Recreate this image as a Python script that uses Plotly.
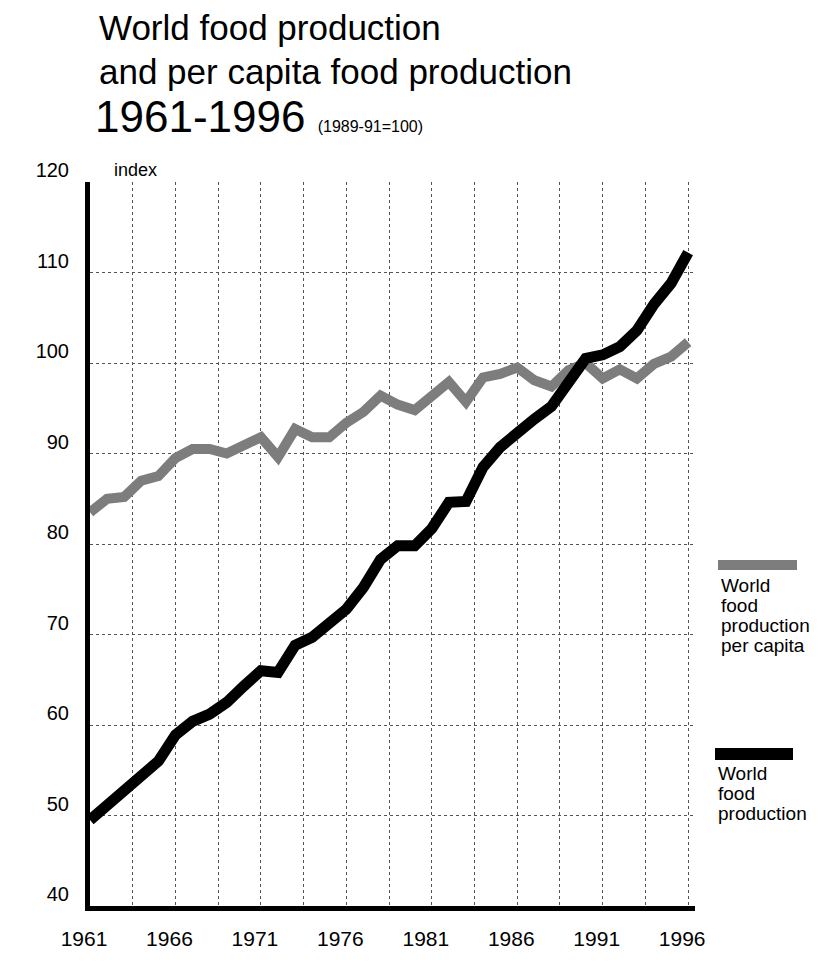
import plotly.graph_objects as go

# ---------------- data ----------------
years = list(range(1961, 1997))

world_food_production = [
    49.5, 51.2, 53.0, 54.4, 56.0, 58.9, 60.4, 61.2, 62.5, 64.3,
    66.0, 65.8, 68.8, 69.7, 71.2, 72.8, 75.2, 78.3, 79.8, 79.8,
    81.7, 84.6, 84.7, 88.5, 90.7, 92.4, 93.8, 95.2, 97.8, 100.5,
    100.9, 101.8, 103.6, 106.5, 108.8, 112.2,
]

world_food_per_capita = [
    83.5, 85.0, 85.2, 87.0, 87.5, 89.5, 90.5, 90.5, 90.0, 91.0,
    91.8, 89.6, 92.7, 91.8, 91.8, 93.4, 94.6, 96.4, 95.4, 94.8,
    96.5, 97.9, 95.7, 98.4, 98.8, 99.5, 98.1, 97.4, 99.2, 100.0,
    98.3, 99.3, 98.3, 99.9, 100.7, 102.3,
]

x_tick_years = [1961, 1966, 1971, 1976, 1981, 1986, 1991, 1996]
y_ticks = [40, 50, 60, 70, 80, 90, 100, 110, 120]

legend_per_capita = ["World", "food", "production", "per capita"]
legend_production = ["World", "food", "production"]

# ---------------- layout geometry ----------------
W, H = 820, 961
OFF = 8  # page body margin offset of the figure inside the window
ML, MT = 82, 174
MR = W - 687
MB = H - 898
PW = W - ML - MR
PH = H - MT - MB


def px(x):
    return (x - OFF - ML) / PW


def py(y):
    return (MT + PH - (y - OFF)) / PH


FONT = "Liberation Sans, Arial, Helvetica, sans-serif"
GREY = "#7d7d7d"

fig = go.Figure()

fig.add_trace(go.Scatter(
    x=years, y=world_food_per_capita, mode="lines",
    line=dict(color=GREY, width=10),
    name="World food production per capita",
))
fig.add_trace(go.Scatter(
    x=years, y=world_food_production, mode="lines",
    line=dict(color="black", width=11),
    name="World food production",
))

annotations = [
    dict(text="World food production", x=px(97), y=py(27), font=dict(size=35)),
    dict(text="and per capita food production", x=px(97), y=py(71), font=dict(size=35)),
    dict(text="1961-1996 <span style='font-size:16px'>(1989-91=100)</span>",
         x=px(93), y=py(117), font=dict(size=44)),
    dict(text="index", x=px(112), y=py(170), font=dict(size=18)),
]
for i, t in enumerate(legend_per_capita):
    annotations.append(dict(text=t, x=px(719), y=py(585 + 20 * i), font=dict(size=19)))
for i, t in enumerate(legend_production):
    annotations.append(dict(text=t, x=px(716), y=py(773 + 20 * i), font=dict(size=19)))

for a in annotations:
    a.update(xref="paper", yref="paper", xanchor="left", yanchor="middle",
             showarrow=False)
    a["font"].update(family=FONT, color="black")

shapes = [
    dict(type="rect", xref="paper", yref="paper",
         x0=px(718), x1=px(797), y0=py(570), y1=py(560),
         fillcolor=GREY, line=dict(width=0)),
    dict(type="rect", xref="paper", yref="paper",
         x0=px(715), x1=px(793), y0=py(760), y1=py(748),
         fillcolor="black", line=dict(width=0)),
]

fig.update_layout(
    width=W, height=H,
    margin=dict(l=ML, r=MR, t=MT, b=MB),
    plot_bgcolor="white", paper_bgcolor="white",
    showlegend=False,
    font=dict(family=FONT, color="black"),
    annotations=annotations,
    shapes=shapes,
)

fig.update_xaxes(
    range=[1961, 1996.4],
    tickmode="array", tickvals=x_tick_years, ticktext=[str(v) for v in x_tick_years],
    tickfont=dict(size=21, family=FONT, color="black"),
    ticks="", ticklabelstandoff=10, ticklabelshift=-6,
    showline=True, linewidth=5, linecolor="black",
    showgrid=True, gridcolor="#555", gridwidth=1, griddash="dot",
    minor=dict(dtick=2.5, tick0=1961, showgrid=True, gridcolor="#555",
               gridwidth=1, griddash="dot"),
    zeroline=False, automargin=False,
)
fig.update_yaxes(
    range=[40, 120],
    tickmode="array", tickvals=y_ticks, ticktext=[str(v) for v in y_ticks],
    tickfont=dict(size=20, family=FONT, color="black"),
    ticks="", ticklabelstandoff=12, ticklabelshift=-12,
    showline=True, linewidth=5, linecolor="black",
    showgrid=True, gridcolor="#555", gridwidth=1, griddash="dot",
    zeroline=False, automargin=False,
)

fig.write_html("out.html")
